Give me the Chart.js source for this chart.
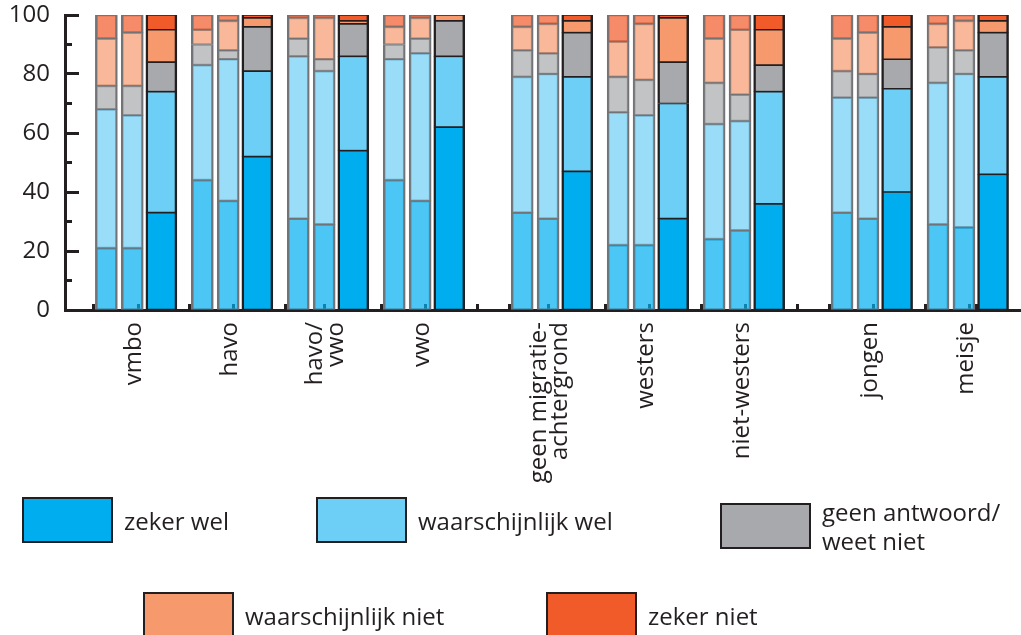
<!DOCTYPE html>
<html>
<head>
<meta charset="utf-8">
<script src="https://cdn.jsdelivr.net/npm/chart.js@4.4.1/dist/chart.umd.min.js"></script>
<style>
    html, body { margin: 0; padding: 0; background: #ffffff; }
    #wrap { position: relative; width: 1021px; height: 635px; overflow: hidden; font-family: 'Open Sans', sans-serif; color: #231f20; }
    #chart { position: absolute; left: 0; top: 0; }
    .legend-item { position: absolute; display: flex; align-items: center; }
    .legend-box { width: 87px; height: 42px; border: 2px solid #231f20; flex: none; }
    .legend-text { margin-left: 11px; font-size: 24px; line-height: 29px; }
</style>
</head>
<body>
<div id="wrap">
    <canvas id="chart" width="1021" height="635"></canvas>
</div>
<script>
// ================= Data =================
const groupLabels = ['vmbo', 'havo', ['havo/', 'vwo'], 'vwo', ['geen migratie-', 'achtergrond'], 'westers', 'niet-westers', 'jongen', 'meisje'];
const groupSection = [0, 0, 0, 0, 1, 1, 1, 2, 2];

const answerLabels = ['zeker wel', 'waarschijnlijk wel', ['geen antwoord/', 'weet niet'], 'waarschijnlijk niet', 'zeker niet'];

// per group: [bar 1, bar 2, bar 3] in percent
const zekerWel = [[21, 21, 33], [44, 37, 52], [31, 29, 54], [44, 37, 62], [33, 31, 47], [22, 22, 31], [24, 27, 36], [33, 31, 40], [29, 28, 46]];
const waarschijnlijkWel = [[47, 45, 41], [39, 48, 29], [55, 52, 32], [41, 50, 24], [46, 49, 32], [45, 44, 39], [39, 37, 38], [39, 41, 35], [48, 52, 33]];
const geenAntwoord = [[8, 10, 10], [7, 3, 15], [6, 4, 11], [5, 5, 12], [9, 7, 15], [12, 12, 14], [14, 9, 9], [9, 8, 10], [12, 8, 15]];
const waarschijnlijkNiet = [[16, 18, 11], [5, 10, 3], [7, 14, 1], [6, 7, 2], [8, 10, 4], [12, 19, 15], [15, 22, 12], [11, 14, 11], [8, 10, 4]];
const zekerNiet = [[8, 6, 5], [5, 2, 1], [1, 1, 2], [4, 1, 0], [4, 3, 2], [9, 3, 1], [8, 5, 5], [8, 6, 4], [3, 2, 2]];

const yTicks = [0, 20, 40, 60, 80, 100];

// ================= Styles =================
const answerSeries = [zekerWel, waarschijnlijkWel, geenAntwoord, waarschijnlijkNiet, zekerNiet];
const answerColors = ['#00aeef', '#6dcff6', '#a7a9ac', '#f69a6e', '#f15a29'];
const answerFaded = ['rgba(0,174,239,0.7)', 'rgba(109,207,246,0.7)', 'rgba(167,169,172,0.7)', 'rgba(246,154,110,0.7)', 'rgba(241,90,41,0.7)'];
const ink = '#231f20';
const font = { family: "'Open Sans', sans-serif", size: 24 };

// one x unit = one slot of the original axis grid; 3 slots per group, 1 slot between sections
const barOffset = [0.9, 1.71, 2.62];
const barWidth = [22, 22, 31];
const labelOffset = 1.78;
const groupBase = i => 3 * i + groupSection[i];
const labelPos = i => groupBase(i) + labelOffset - ([].concat(groupLabels[i]).length - 1) * 0.36;

const datasets = [];
for (let b = 0; b < 3; b++) {
    answerSeries.forEach((series, a) => {
        const faded = b < 2;
        datasets.push({
            label: b + '-' + a,
            stack: 'bar' + b,
            data: series.map((vals, i) => ({ x: groupBase(i) + barOffset[b], y: vals[b] })),
            backgroundColor: faded ? answerFaded[a] : answerColors[a],
            borderColor: faded ? '#727376' : ink,
            borderWidth: faded ? { left: 2, right: 2, top: 1, bottom: 1 } : { left: 2.5, right: 2.5, top: 1.2, bottom: 1.2 },
            borderSkipped: false,
            barThickness: barWidth[b],
            grouped: false
        });
    });
}

// ================= Chart =================
new Chart(document.getElementById('chart'), {
    type: 'bar',
    data: { datasets },
    options: {
        responsive: false,
        animation: false,
        devicePixelRatio: 1,
        layout: { padding: { top: 15, right: 0, bottom: 150, left: 0 } },
        plugins: { legend: { display: false }, tooltip: { enabled: false } },
        scales: {
            x: {
                type: 'linear',
                min: 0,
                max: 29.1,
                afterBuildTicks: axis => {
                    const marks = [];
                    for (let k = 0; k <= 28; k++) marks.push({ value: k });
                    const labs = groupLabels.map((l, i) => ({ value: labelPos(i), lab: l }));
                    axis.ticks = marks.concat(labs).sort((p, q) => p.value - q.value);
                },
                ticks: {
                    autoSkip: false,
                    minRotation: 90,
                    maxRotation: 90,
                    padding: 18,
                    color: ink,
                    font: { ...font, lineHeight: 0.9 },
                    callback: (v, i, t) => t[i].lab || ''
                },
                grid: {
                    drawOnChartArea: false,
                    tickLength: -6,
                    tickWidth: 3,
                    tickColor: ctx => (ctx.tick && ctx.tick.lab) ? 'rgba(0,0,0,0)' : ink
                },
                border: { width: 3, color: ink },
                afterFit: s => { s.height = 175; s.paddingLeft = 0; s.paddingRight = 0; }
            },
            y: {
                type: 'linear',
                position: 'left',
                weight: 1,
                min: 0,
                max: 100,
                stacked: true,
                afterBuildTicks: axis => { axis.ticks = yTicks.map(v => ({ value: v })); },
                ticks: { padding: 29, color: ink, font },
                grid: { drawOnChartArea: false, tickLength: -14, tickWidth: 3, tickColor: ink },
                border: { width: 3, color: ink },
                afterFit: s => { s.width = 65; s.paddingTop = 0; s.paddingBottom = 0; }
            },
            yMinor: {
                type: 'linear',
                position: 'left',
                weight: 0,
                min: 0,
                max: 100,
                ticks: { stepSize: 10, display: false },
                grid: { drawOnChartArea: false, tickLength: -7, tickWidth: 3, tickColor: ink },
                border: { display: false },
                afterFit: s => { s.width = 0; s.paddingTop = 0; s.paddingBottom = 0; }
            }
        }
    }
});

// ================= Legend =================
const legendPos = [[22, 497], [316, 497], [720, 497], [143, 592], [546, 592]];
const wrap = document.getElementById('wrap');
answerLabels.forEach((label, a) => {
    const item = document.createElement('div');
    item.className = 'legend-item';
    item.style.left = legendPos[a][0] + 'px';
    item.style.top = legendPos[a][1] + 'px';
    const box = document.createElement('div');
    box.className = 'legend-box';
    box.style.background = answerColors[a];
    const text = document.createElement('div');
    text.className = 'legend-text';
    text.innerHTML = [].concat(label).join('<br>');
    item.appendChild(box);
    item.appendChild(text);
    wrap.appendChild(item);
});
</script>
</body>
</html>
